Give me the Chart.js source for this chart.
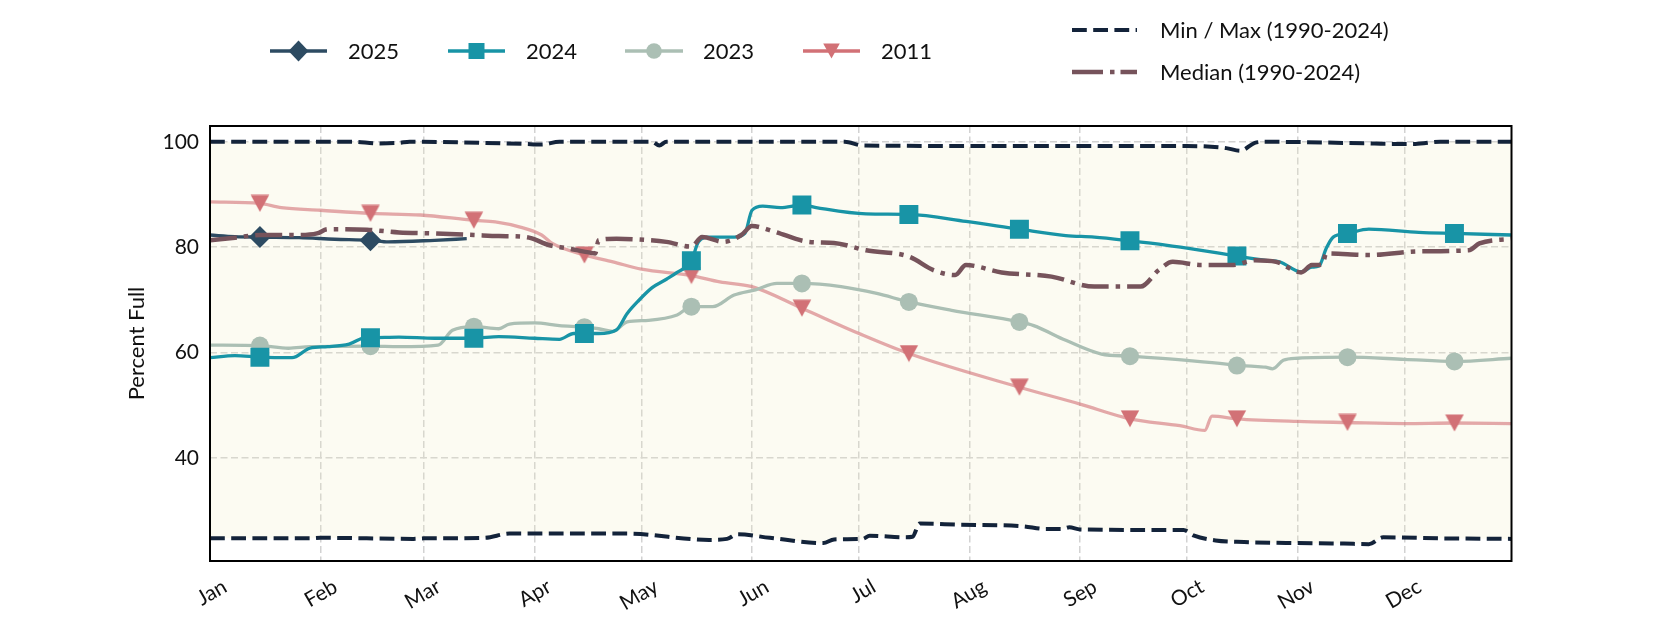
<!DOCTYPE html>
<html><head><meta charset="utf-8">
<script src="https://cdn.jsdelivr.net/npm/chart.js@4.4.1/dist/chart.umd.min.js"></script>
<style>
html,body{margin:0;padding:0;background:#fff;}
#wrap{position:relative;width:1680px;height:630px;font-family:Lato,"Noto Sans",sans-serif;color:#111;overflow:hidden;}
#c{position:absolute;left:0;top:0;}
.lg{position:absolute;display:flex;align-items:center;height:30px;font-size:22px;white-space:nowrap;line-height:30px;}
.lg svg{display:block;flex:none;}
</style></head><body>
<div id="wrap"><canvas id="c" width="1680" height="630"></canvas><div id="legend"></div></div>
<script>
// ---------- data ----------
const monthLabels = ['Jan','Feb','Mar','Apr','May','Jun','Jul','Aug','Sep','Oct','Nov','Dec'];
const monthStartDays = [0,31,60,91,121,152,182,213,244,274,305,335];
const markerDays = [14,45,74,105,135,166,196,227,258,288,319,349];
const yTickValues = [40,60,80,100];
const seriesLabels = ['2025','2024','2023','2011'];
const refLabels = ['Min / Max (1990-2024)','Median (1990-2024)'];
const yAxisTitle = 'Percent Full';

const days2025 = [0,7,14,25,35,45,50,63,72];
const pct2025  = [82.3,82.0,81.9,81.8,81.5,81.3,81.0,81.3,81.6];

const days2024 = [0,7,14,23,28,33,39,44,45,53,63,74,81,91,98,102,105,109,114,117,120,124,128,131,135,137,140,147,150,152,155,160,166,170,184,196,212,227,240,248,258,268,278,288,296,300,306,309,311,313,315,319,325,339,349,365];
const pct2024  = [59.0,59.4,59.1,59.0,60.8,61.1,61.6,62.9,62.8,62.9,62.7,62.7,63.0,62.7,62.5,63.6,63.6,63.6,64.3,67.4,69.7,72.3,73.9,75.2,77.4,81.0,81.9,81.9,82.6,87.0,87.8,87.5,88.0,87.5,86.3,86.2,84.9,83.4,82.2,81.9,81.2,80.4,79.4,78.3,77.5,77.2,75.3,76.2,76.4,79.7,81.9,82.6,83.4,82.8,82.6,82.3];

const days2023 = [0,14,22,28,45,53,64,68,74,81,84,91,98,105,109,113,117,123,131,135,141,147,153,159,166,177,187,196,208,227,231,240,250,258,274,285,288,292,296,298,301,305,319,335,349,365];
const pct2023  = [61.4,61.3,60.8,61.1,61.2,61.1,61.4,64.2,64.9,64.5,65.4,65.6,65.1,64.8,64.5,64.0,65.8,66.1,67.1,68.7,68.7,70.9,71.9,73.1,73.1,72.5,71.2,69.6,68.0,65.8,65.1,62.3,59.7,59.3,58.5,57.8,57.5,57.4,57.2,56.9,58.5,58.9,59.1,58.7,58.3,58.9];

const days2011 = [0,14,20,31,45,59,74,80,87,93,96,105,113,121,135,143,152,166,182,196,227,244,258,272,279,281,288,305,319,335,349,365];
const pct2011  = [88.6,88.3,87.5,87.0,86.4,86.1,85.1,84.8,83.8,82.3,80.7,78.5,77.2,75.8,74.6,73.4,72.5,68.4,63.6,59.8,53.4,50.2,47.4,46.1,45.2,47.9,47.4,46.9,46.7,46.5,46.6,46.5];

const daysMax = [0,40,47,53,56,88,93,98,124,126,128,178,183,222,274,285,289,293,296,324,331,338,345,365];
const pctMax  = [100,100,99.7,99.8,100,99.6,99.5,100,100,99.3,100,100,99.3,99.2,99.2,98.8,98.3,99.8,100,99.7,99.6,99.6,100,100];

const daysMin = [0,28,31,57,60,77,84,117,140,145,148,157,172,175,183,185,195,197,199,210,228,234,239,241,244,260,273,276,282,290,305,318,325,329,345,365];
const pctMin  = [24.7,24.7,24.8,24.6,24.7,24.8,25.6,25.6,24.4,24.6,25.5,24.8,23.8,24.5,24.6,25.2,24.9,25.0,27.5,27.3,27.0,26.5,26.5,26.8,26.4,26.3,26.3,25.2,24.3,24.0,23.8,23.7,23.6,24.9,24.7,24.6];

const daysMedian = [0,7,14,25,30,33,44,53,63,74,81,87,90,95,100,107,108,109,114,119,128,135,138,144,149,152,158,168,175,184,196,203,209,212,222,236,248,261,266,270,278,287,293,299,306,309,312,313,325,339,353,356,365];
const pctMedian  = [81.3,81.8,82.3,82.3,82.6,83.4,83.3,82.8,82.6,82.3,82.1,82.0,81.7,80.4,79.8,78.9,78.8,81.3,81.6,81.5,81.0,80.1,81.9,81.0,82.3,84.0,83.0,81.0,80.8,79.4,78.2,75.6,74.7,76.6,75.2,74.4,72.5,72.5,75.6,77.2,76.6,76.6,77.5,77.2,75.2,76.6,76.7,78.8,78.5,79.2,79.4,80.7,81.6];

// ---------- styles ----------
const C2025 = '#2d4b62', C2024 = '#1894a6', C2023 = '#abbfb4', C2011 = '#d27176';
const C2011line = 'rgba(210,113,118,0.6)';
const CMinMax = '#13233a', CMedian = '#76535b';
const FONT = 'Lato, "Noto Sans", sans-serif';

const pts = (d, v) => d.map((x, i) => ({x: x, y: v[i]}));
const markR = r => ctx => (ctx.raw && markerDays.includes(ctx.raw.x)) ? r : 0;

function triImg(w, h, color) {
  const c = document.createElement('canvas');
  c.width = 20; c.height = 18;
  const g = c.getContext('2d');
  const ox = (c.width - w) / 2, oy = (c.height - h) / 2;
  g.fillStyle = color;
  g.beginPath(); g.moveTo(ox, oy); g.lineTo(ox + w, oy); g.lineTo(ox + w / 2, oy + h); g.closePath(); g.fill();
  return c;
}
const triDown = triImg(18.5, 17, C2011);

const lineBase = {fill: false, cubicInterpolationMode: 'monotone', borderJoinStyle: 'round', pointBorderWidth: 0, pointHoverRadius: 0, spanGaps: true};

const datasets = [
  Object.assign({}, lineBase, {label: refLabels[1], data: pts(daysMedian, pctMedian), borderColor: CMedian, borderWidth: 4.5, borderDash: [27, 7, 4.5, 7], pointRadius: 0, order: 0}),
  Object.assign({}, lineBase, {label: seriesLabels[0], data: pts(days2025, pct2025), borderColor: C2025, backgroundColor: C2025, pointBackgroundColor: C2025, borderWidth: 3.3, pointStyle: 'rectRot', pointRadius: markR(11), order: 1}),
  Object.assign({}, lineBase, {label: seriesLabels[1], data: pts(days2024, pct2024), borderColor: C2024, backgroundColor: C2024, pointBackgroundColor: C2024, borderWidth: 3.3, pointStyle: 'rect', pointRadius: markR(13.4), order: 2}),
  Object.assign({}, lineBase, {label: seriesLabels[2], data: pts(days2023, pct2023), borderColor: C2023, backgroundColor: C2023, pointBackgroundColor: C2023, borderWidth: 3.3, pointStyle: 'circle', pointRadius: markR(9), order: 3}),
  Object.assign({}, lineBase, {label: seriesLabels[3], data: pts(days2011, pct2011), borderColor: C2011line, backgroundColor: C2011, pointBackgroundColor: C2011, borderWidth: 3.3, pointStyle: triDown, pointRadius: markR(9), order: 4}),
  Object.assign({}, lineBase, {label: refLabels[0], data: pts(daysMax, pctMax), borderColor: CMinMax, borderWidth: 4, borderDash: [14.8, 6.4], pointRadius: 0, order: 5,
    fill: {target: 6}, backgroundColor: 'rgba(240,235,190,0.2)'}),
  Object.assign({}, lineBase, {label: refLabels[0] + ' min', data: pts(daysMin, pctMin), borderColor: CMinMax, borderWidth: 4, borderDash: [14.8, 6.4], pointRadius: 0, order: 6})
];

const framePlugin = {
  id: 'frame',
  afterDraw(chart) {
    const {ctx, chartArea: a} = chart;
    ctx.save();
    ctx.strokeStyle = '#000'; ctx.lineWidth = 2;
    ctx.strokeRect(a.left, a.top, a.right - a.left, a.bottom - a.top);
    ctx.restore();
  }
};

new Chart(document.getElementById('c'), {
  type: 'line',
  data: {datasets: datasets},
  plugins: [framePlugin],
  options: {
    responsive: false, animation: false, events: [],
    layout: {padding: {left: 0, right: 168.5, top: 126, bottom: 0}},
    plugins: {legend: {display: false}, tooltip: {enabled: false}, filler: {drawTime: 'beforeDatasetsDraw'}},
    scales: {
      x: {
        type: 'linear', min: 0, max: 365,
        afterBuildTicks: s => { s.ticks = monthStartDays.map(v => ({value: v})); },
        afterFit: s => { s.height = 69; },
        ticks: {autoSkip: false, minRotation: 30, maxRotation: 30, padding: 13, labelOffset: 15,
          color: '#111', font: {family: FONT, size: 21},
          callback: v => monthLabels[monthStartDays.indexOf(v)]},
        grid: {color: '#d2d2d2', lineWidth: 1.5, drawTicks: false},
        border: {display: false, dash: [7, 3.5]}
      },
      y: {
        type: 'linear', min: 20.4, max: 103,
        afterBuildTicks: s => { s.ticks = yTickValues.map(v => ({value: v})); },
        afterFit: s => { s.width = 210; },
        ticks: {padding: 11, color: '#111', font: {family: FONT, size: 21}},
        grid: {color: '#d2d2d2', lineWidth: 1.5, drawTicks: false},
        border: {display: false, dash: [7, 3.5]},
        title: {display: true, text: yAxisTitle, color: '#111', font: {family: FONT, size: 22}, padding: {top: 124, bottom: 0}}
      }
    }
  }
});

// ---------- legend (HTML) ----------
const legendItems = [
  {label: seriesLabels[0], kind: 'diamond', color: C2025, x0: 270, x1: 327, tx: 348, y: 51},
  {label: seriesLabels[1], kind: 'square', color: C2024, x0: 448, x1: 505, tx: 526, y: 51},
  {label: seriesLabels[2], kind: 'circle', color: C2023, x0: 625, x1: 683, tx: 703, y: 51},
  {label: seriesLabels[3], kind: 'tri', color: C2011, x0: 803, x1: 860, tx: 881, y: 51},
  {label: refLabels[0], kind: 'dash', color: CMinMax, x0: 1072, x1: 1137, tx: 1160, y: 30},
  {label: refLabels[1], kind: 'dashdot', color: CMedian, x0: 1072, x1: 1137, tx: 1160, y: 72}
];
const NS = 'http://www.w3.org/2000/svg';
const lg = document.getElementById('legend');
legendItems.forEach(it => {
  const div = document.createElement('div');
  div.className = 'lg';
  div.style.left = it.x0 + 'px';
  div.style.top = (it.y - 15) + 'px';
  const w = it.x1 - it.x0, cx = w / 2, cy = 15;
  const svg = document.createElementNS(NS, 'svg');
  svg.setAttribute('width', w); svg.setAttribute('height', 30);
  const ln = document.createElementNS(NS, 'line');
  ln.setAttribute('x1', 0); ln.setAttribute('x2', w); ln.setAttribute('y1', cy); ln.setAttribute('y2', cy);
  ln.setAttribute('stroke', it.color);
  if (it.kind === 'dash') { ln.setAttribute('stroke-width', 4); ln.setAttribute('stroke-dasharray', '14.8 6.4'); }
  else if (it.kind === 'dashdot') { ln.setAttribute('stroke-width', 4.5); ln.setAttribute('stroke-dasharray', '31 7 4.5 6'); }
  else { ln.setAttribute('stroke-width', 3.3); }
  svg.appendChild(ln);
  let m = null;
  if (it.kind === 'diamond') { m = document.createElementNS(NS, 'polygon'); m.setAttribute('points', `${cx},${cy-10.5} ${cx+10},${cy} ${cx},${cy+10.5} ${cx-10},${cy}`); }
  else if (it.kind === 'square') { m = document.createElementNS(NS, 'rect'); m.setAttribute('x', cx - 8); m.setAttribute('y', cy - 8); m.setAttribute('width', 16); m.setAttribute('height', 16); }
  else if (it.kind === 'circle') { m = document.createElementNS(NS, 'circle'); m.setAttribute('cx', cx); m.setAttribute('cy', cy); m.setAttribute('r', 7.8); }
  else if (it.kind === 'tri') { m = document.createElementNS(NS, 'polygon'); m.setAttribute('points', `${cx-8.3},${cy-7.5} ${cx+8.3},${cy-7.5} ${cx},${cy+7.5}`); }
  if (m) { m.setAttribute('fill', it.color); svg.appendChild(m); }
  div.appendChild(svg);
  const sp = document.createElement('span');
  sp.textContent = it.label;
  sp.style.marginLeft = (it.tx - it.x1) + 'px';
  div.appendChild(sp);
  lg.appendChild(div);
});
</script>
</body></html>
